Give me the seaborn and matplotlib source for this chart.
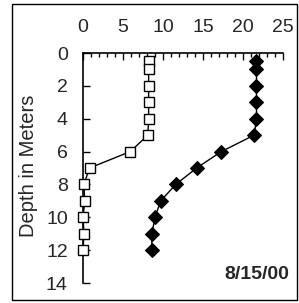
import numpy as np
import matplotlib
matplotlib.use("Agg")
import matplotlib.pyplot as plt
import seaborn as sns
from matplotlib.patches import Rectangle
from matplotlib.ticker import MultipleLocator

depth = [0.5, 1, 2, 3, 4, 5, 6, 7, 8, 9, 10, 11, 12]
oxygen = [8.2, 8.2, 8.2, 8.2, 8.2, 8.1, 5.9, 0.8, 0.1, 0.2, 0.0, 0.1, 0.0]
temperature = [21.7, 21.7, 21.7, 21.7, 21.7, 21.4, 17.3, 14.2, 11.6, 9.7, 9.0, 8.6, 8.6]

sns.set_style("white")
plt.rcParams['font.family'] = ['Liberation Sans', 'DejaVu Sans']
plt.rcParams['font.size'] = 14

fig = plt.figure(figsize=(2.99, 3.03), dpi=100)
ax = fig.add_axes([0.278, 0.066, 0.668, 0.759])

sns.lineplot(x=oxygen, y=depth, sort=False, estimator=None, ax=ax, color="black",
             lw=1, marker="s", markersize=7, markerfacecolor="white",
             markeredgecolor="black", markeredgewidth=1, clip_on=False, zorder=3)
sns.lineplot(x=temperature, y=depth, sort=False, estimator=None, ax=ax,
             color="black", lw=1, marker="D", markersize=7,
             markerfacecolor="black", markeredgecolor="black", clip_on=False,
             zorder=3)

ax.set_xlim(0, 25)
ax.set_ylim(14, 0)
ax.xaxis.tick_top()
ax.xaxis.set_major_locator(MultipleLocator(5))
ax.xaxis.set_minor_locator(MultipleLocator(1))
ax.yaxis.set_major_locator(MultipleLocator(2))
ax.tick_params(axis="x", which="both", direction="in", top=True, bottom=False,
               length=5, width=1, color="black", labelsize=14, pad=12)
ax.tick_params(axis="x", which="minor", length=3)
ax.tick_params(axis="y", direction="in", left=True, length=5, width=1,
               color="black", labelsize=14, pad=11)
for s in ["right", "bottom"]:
    ax.spines[s].set_visible(False)
for s in ["left", "top"]:
    ax.spines[s].set_color("black")
    ax.spines[s].set_linewidth(1.2)
ax.set_ylabel("Depth in Meters", fontsize=14.5)
ax.yaxis.set_label_coords(-0.225, 0.51)
ax.text(1.03, 0.0, "8/15/00", transform=ax.transAxes, ha="right", va="bottom",
        fontsize=14, fontweight="bold")

fig.patches.append(Rectangle((0.04, 0.01), 0.953, 0.977, transform=fig.transFigure,
                             fill=False, edgecolor="black", lw=1))

fig.savefig("out.png", dpi=100)
